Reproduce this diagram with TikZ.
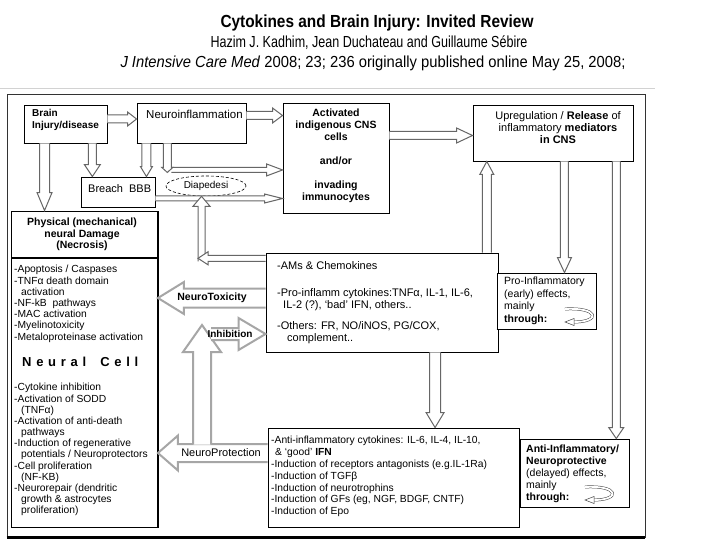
\documentclass[tikz,border=0pt]{standalone}
\usepackage{fontspec}
\setmainfont{Liberation Sans}
\usepackage{graphicx}
\usetikzlibrary{calc,shapes.geometric}

\newcommand\myfs[2]{\fontsize{#1}{#2}\selectfont}
% #1 style, #2 start, #3 tip, #4 shaft half width, #5 head half width, #6 head length
\newcommand\hollowarrow[6][]{%
  \coordinate (ha) at #2;
  \coordinate (hb) at #3;
  \coordinate (hh) at ($(hb)!#6!(ha)$);
  \fill[white] ($(ha)!#4!90:(hb)$) -- ($(hh)!#4!90:(hb)$) -- ($(hh)!#5!90:(hb)$) -- (hb)
     -- ($(hh)!#5!-90:(hb)$) -- ($(hh)!#4!-90:(hb)$) -- ($(ha)!#4!-90:(hb)$) -- cycle;
  \draw[thinarrow,#1] ($(ha)!#4!90:(hb)$) -- ($(hh)!#4!90:(hb)$) -- ($(hh)!#5!90:(hb)$) -- (hb)
     -- ($(hh)!#5!-90:(hb)$) -- ($(hh)!#4!-90:(hb)$) -- ($(ha)!#4!-90:(hb)$);
}
\newcommand\curlyicon[1]{%
  \begin{scope}[shift={#1}]
    \draw[black!75, line width=0.5pt, double=white, double distance=1.8pt]
      (0,0) .. controls (34,-2) and (36,13) .. (9,13);
    \draw[black!75, line width=0.5pt, fill=white] (9,9.5) -- (0,13) -- (9,16.5) -- cycle;
  \end{scope}}

\begin{document}
\begin{tikzpicture}[x=1pt,y=-1pt,
  box/.style={draw, line width=0.9pt, fill=white, inner sep=0pt},
  txt/.style={inner sep=0pt, align=left, anchor=north west},
  ctxt/.style={inner sep=0pt, align=center, anchor=north},
  thinarrow/.style={draw=black!60, line width=1pt, line join=miter},
  bigarrow/.style={draw=gray!70, line width=2pt, line join=miter},
  lbl/.style={inner sep=0pt}]
\useasboundingbox (0,0) rectangle (720,540);
\fill[white] (0,0) rectangle (720,540);

% header
\node[lbl] (title) at (377,23) {\resizebox{313pt}{\height}{\myfs{17.5}{20}\bfseries Cytokines and Brain Injury: Invited Review}};
\node[lbl] (auth) at (369,43) {\resizebox{317pt}{\height}{\myfs{16}{19}Hazim J. Kadhim, Jean Duchateau and Guillaume Sébire}};
\node[lbl] (jour) at (373,63) {\resizebox{505pt}{\height}{\myfs{16}{19}\textit{J Intensive Care Med} 2008; 23; 236 originally published online May 25, 2008;}};
\draw[gray!35, line width=0.8pt] (0,88.5) -- (655,88.5);

% frame
\node[draw=black!80, line width=0.8pt, minimum width=638, minimum height=443, inner sep=0pt] (frame) at (326,315.5) {};
\draw[line width=2.4pt] (frame.south west) -- (frame.south east);

% boxes
\node[box, minimum width=83, minimum height=38] (brain) at (65.5,124) {};
\node[box, minimum width=109, minimum height=40] (neuro) at (191.5,123) {};
\node[box, minimum width=106, minimum height=110] (activ) at (336,158) {};
\node[box, minimum width=160, minimum height=56] (upreg) at (553,133) {};
\node[box, minimum width=74, minimum height=30] (breach) at (118,192) {};
\node[box, minimum width=146, minimum height=46] (phys) at (84.5,234) {};
\node[box, minimum width=146, minimum height=269] (cell) at (84.5,392.5) {};
\node[box, minimum width=232, minimum height=99] (med) at (382,302.5) {};
\node[box, minimum width=99, minimum height=56] (pro) at (546.5,301) {};
\node[box, minimum width=251, minimum height=99] (anti) at (393.5,477.5) {};
\node[box, minimum width=109, minimum height=68] (antieff) at (574.5,473) {};
\node[draw, densely dashed, line width=0.6pt, ellipse, minimum width=80, minimum height=20, inner sep=0pt, fill=white, font=\myfs{10}{12}] (diap) at (206,186) {Diapedesi};

\foreach \n in {brain,neuro,activ,upreg,breach,phys,cell,pro,antieff}
  \draw[line width=1.6pt] (\n.south west) -- (\n.south east) -- (\n.north east);

% thin connectors
\coordinate (a1) at ([yshift=5pt]brain.east);
\hollowarrow{(a1)}{(a1 -| neuro.west)}{4pt}{7pt}{9pt}
\coordinate (a2) at ([yshift=7.5pt]neuro.east);
\hollowarrow{(a2)}{(a2 -| activ.west)}{4pt}{7.5pt}{10pt}
\coordinate (a3) at ([yshift=-2.5pt]upreg.west);
\hollowarrow{(a3 -| activ.east)}{(a3)}{4pt}{7.5pt}{16pt}
\coordinate (a4) at ($(brain.south west)!0.25!(brain.south east)$);
\hollowarrow{(a4)}{(a4 |- phys.north)}{5pt}{7.5pt}{18pt}
\coordinate (a5) at ($(brain.south west)!0.82!(brain.south east)$);
\hollowarrow{(a5)}{(a5 |- breach.north)}{4pt}{8pt}{12pt}
\coordinate (a6) at ($(neuro.south west)!0.09!(neuro.south east)$);
\hollowarrow{(a6)}{(a6 |- breach.north)}{4.5pt}{6pt}{10pt}
\coordinate (nb) at ($(neuro.south west)!0.28!(neuro.south east)$);
\coordinate (nb2) at ($(nb)+(4,26.5)$);
\hollowarrow{(nb2)}{(nb2 -| activ.west)}{2.5pt}{6pt}{16pt}
\hollowarrow{(nb)}{($(nb)+(0,29)$)}{4pt}{5.5pt}{5pt}
\coordinate (b1) at ([yshift=-6.5pt]breach.east);
\hollowarrow{(b1)}{(b1 -| activ.west)}{2.5pt}{4.5pt}{18pt}
\coordinate (dc) at ($(diap.south)+(-4.5,62)$);
\hollowarrow{($(dc)+(0,3)$)}{($(diap.south)+(-4.5,0)$)}{3.5pt}{8.5pt}{10pt}
\hollowarrow{(dc -| med.west)}{($(dc)+(-3.5,0)$)}{3pt}{6.5pt}{10pt}
\coordinate (m1) at ($(med.north west)!0.95!(med.north east)$);
\hollowarrow{(m1)}{(m1 |- upreg.south)}{4.5pt}{7pt}{13pt}
\coordinate (u2) at ($(pro.north west)!0.68!(pro.north east)$);
\hollowarrow{(u2 |- upreg.south)}{(u2)}{4pt}{7pt}{15pt}
\coordinate (u3) at ($(antieff.north west)!0.88!(antieff.north east)$);
\hollowarrow{(u3 |- upreg.south)}{(u3)}{4pt}{7.5pt}{11pt}
\coordinate (m2) at ($(anti.north west)!0.665!(anti.north east)$);
\hollowarrow{(m2 |- med.south)}{(m2)}{5.5pt}{9pt}{15pt}

% big arrows
\coordinate (t1) at ([yshift=4.5pt]med.west);
\hollowarrow[bigarrow]{(t1)}{(t1 -| cell.east)}{9.5pt}{16pt}{26pt}
\coordinate (p1) at ([yshift=24.5pt]anti.west);
\hollowarrow[bigarrow]{(p1)}{(p1 -| cell.east)}{9pt}{17.5pt}{20pt}
\coordinate (upbase) at (202,444.5);
\coordinate (uptip) at (202,325);
\hollowarrow[bigarrow]{(upbase)}{(uptip)}{9pt}{19pt}{27pt}
\coordinate (inhstart) at (211,334);
\hollowarrow[bigarrow]{(inhstart)}{(inhstart -| med.west)}{6pt}{16pt}{27pt}

\node[lbl, font=\myfs{10.5}{12}\bfseries] (ltox) at (212,298) {NeuroToxicity};
\node[lbl, font=\myfs{11}{12}] (lprot) at (221,453) {NeuroProtection};
\node[lbl, font=\myfs{10}{12}\bfseries] (linh) at (230,334) {Inhibition};

% texts
\node[txt, font=\myfs{10}{12}\bfseries] (tbrain) at (32,109.3) {Brain\\Injury/disease};
\node[txt, font=\myfs{11.5}{12}] (tneuro) at (146,109.8) {Neuroinflammation};
\node[txt, font=\myfs{11}{12}] (tbreach) at (88,184) {Breach\ \ BBB};
\node[ctxt, font=\myfs{10.5}{12}\bfseries] (tactiv) at (336,109) {Activated\\indigenous CNS\\cells\\[12pt]and/or\\[12pt]invading\\immunocytes};
\node[ctxt, font=\myfs{11}{12}] (tupreg) at (558,111.8) {Upregulation / \textbf{Release} of\\inflammatory \textbf{mediators}\\\textbf{in CNS}};
\node[ctxt, font=\myfs{10.5}{11.5}\bfseries] (tphys) at (82,218) {Physical (mechanical)\\neural Damage\\(Necrosis)};
\node[txt, font=\myfs{10.3}{11.2}] (tcell1) at (14,265.2) {-Apoptosis / Caspases\\-TNFα death domain\\\hspace*{7pt}activation\\-NF-kB\ \ pathways\\-MAC activation\\-Myelinotoxicity\\-Metaloproteinase activation};
\node[anchor=west, inner sep=0pt] (ncell) at (22,362) {\myfs{13}{15}\bfseries\makebox[116pt][s]{N\hfill e\hfill u\hfill r\hfill a\hfill l\hfill\hfill\hfill C\hfill e\hfill l\hfill l}};
\node[txt, font=\myfs{10.3}{11.18}] (tcell2) at (14,383.2) {-Cytokine inhibition\\-Activation of SODD\\\hspace*{7pt}(TNFα)\\-Activation of anti-death\\\hspace*{7pt}pathways\\-Induction of regenerative\\\hspace*{7pt}potentials / Neuroprotectors\\-Cell proliferation\\\hspace*{7pt}(NF-KB)\\-Neurorepair (dendritic\\\hspace*{7pt}growth \& astrocytes\\\hspace*{7pt}proliferation)};
\node[txt, font=\myfs{11}{12}] (tmed) at (277,261) {-AMs \& Chemokines\\[15pt]-Pro-inflamm cytokines:TNFα, IL-1, IL-6,\\\hspace*{6pt}IL-2 (?), ‘bad’ IFN, others..\\[9pt]-Others: FR, NO/iNOS, PG/COX,\\\hspace*{10pt}complement..};
\node[txt, font=\myfs{10.5}{12.5}] (tpro) at (504,277) {Pro-Inflammatory\\(early) effects,\\mainly\\\textbf{through:}};
\node[txt, font=\myfs{10.3}{11.8}] (tanti) at (271,436.3) {-Anti-inflammatory cytokines: IL-6, IL-4, IL-10,\\\hspace*{4pt}\& ‘good’ \textbf{IFN}\\-Induction of receptors antagonists (e.g.IL-1Ra)\\-Induction of TGFβ\\-Induction of neurotrophins\\-Induction of GFs (eg, NGF, BDGF, CNTF)\\-Induction of Epo};
\node[txt, font=\myfs{10.5}{12}] (tantieff) at (526,445) {\textbf{Anti-Inflammatory/}\\\textbf{Neuroprotective}\\(delayed) effects,\\mainly\\\textbf{through:}};

% icons
\curlyicon{(565,309)}
\curlyicon{(585,487)}
\end{tikzpicture}
\end{document}
